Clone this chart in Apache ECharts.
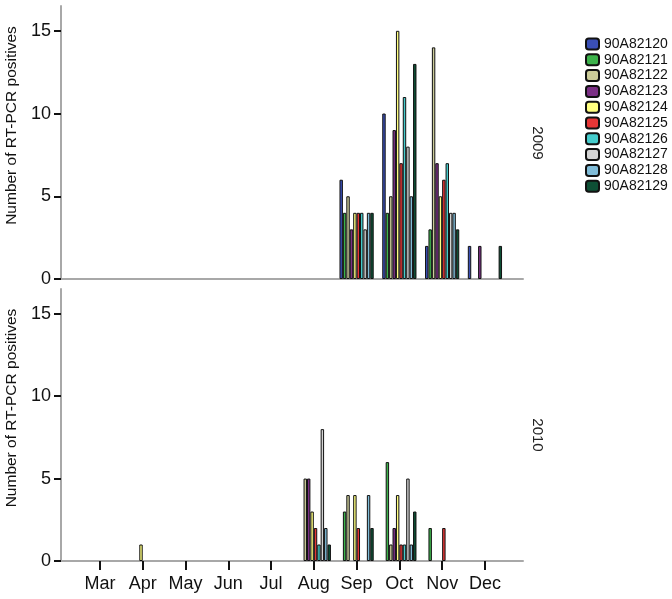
<!DOCTYPE html>
<html>
<head>
<meta charset="utf-8">
<title>RT-PCR positives 2009 / 2010</title>
<script src="https://cdn.jsdelivr.net/npm/echarts@6/dist/echarts.min.js"></script>
<style>
  body { margin: 0; background: #fff; }
  #main { width: 672px; height: 599px; }
</style>
</head>
<body>
<div id="main"></div>
<script type="text/javascript">
    // months on the x axis
    var months = ['Mar', 'Apr', 'May', 'Jun', 'Jul', 'Aug', 'Sep', 'Oct', 'Nov', 'Dec'];
    var strains = ['90A82120', '90A82121', '90A82122', '90A82123', '90A82124',
                   '90A82125', '90A82126', '90A82127', '90A82128', '90A82129'];
    var colors = ['#3a4fb5', '#3cb24b', '#cccc99', '#7b3085', '#ffff80',
                  '#e63636', '#45cccc', '#d3d3d3', '#80bcd8', '#0e4f35'];
    var yTicks = [0, 5, 10, 15];

    // one row per strain, Mar..Dec
    var counts2009 = [
        [0, 0, 0, 0, 0, 0, 6, 10, 2, 2],
        [0, 0, 0, 0, 0, 0, 4, 4, 3, 0],
        [0, 0, 0, 0, 0, 0, 5, 5, 14, 0],
        [0, 0, 0, 0, 0, 0, 3, 9, 7, 2],
        [0, 0, 0, 0, 0, 0, 4, 15, 5, 0],
        [0, 0, 0, 0, 0, 0, 4, 7, 6, 0],
        [0, 0, 0, 0, 0, 0, 4, 11, 7, 0],
        [0, 0, 0, 0, 0, 0, 3, 8, 4, 0],
        [0, 0, 0, 0, 0, 0, 4, 5, 4, 0],
        [0, 0, 0, 0, 0, 0, 4, 13, 3, 2]
    ];
    var counts2010 = [
        [0, 0, 0, 0, 0, 0, 0, 0, 0, 0],
        [0, 0, 0, 0, 0, 0, 3, 6, 2, 0],
        [0, 0, 0, 0, 0, 5, 4, 1, 0, 0],
        [0, 0, 0, 0, 0, 5, 0, 2, 0, 0],
        [0, 1, 0, 0, 0, 3, 4, 4, 0, 0],
        [0, 0, 0, 0, 0, 2, 2, 1, 2, 0],
        [0, 0, 0, 0, 0, 1, 0, 1, 0, 0],
        [0, 0, 0, 0, 0, 8, 0, 5, 0, 0],
        [0, 0, 0, 0, 0, 2, 4, 1, 0, 0],
        [0, 0, 0, 0, 0, 1, 2, 3, 0, 0]
    ];

    var font = 'Liberation Sans';
    var myChart = echarts.init(document.getElementById('main'));

    function xAxisFor(idx, withLabels) {
        return {
            type: 'value', gridIndex: idx, min: -0.91, max: 9.89,
            splitLine: { show: false },
            axisLine: { show: true, onZero: false, lineStyle: { color: '#a8a8a8', width: 2 } },
            axisTick: {
                show: withLabels, customValues: [0, 1, 2, 3, 4, 5, 6, 7, 8, 9],
                length: 9, lineStyle: { color: '#111', width: 2 }
            },
            axisLabel: {
                show: withLabels, customValues: [0, 1, 2, 3, 4, 5, 6, 7, 8, 9],
                formatter: function (v) { return months[Math.round(v)]; },
                margin: 14, fontSize: 18, color: '#111', fontFamily: font
            }
        };
    }

    function yAxisFor(idx) {
        return {
            type: 'value', gridIndex: idx, min: 0, max: 16.5,
            name: 'Number of RT-PCR positives', nameLocation: 'middle', nameGap: 36,
            nameTextStyle: { fontSize: 15.5, color: '#111', fontFamily: font, padding: [0, 0, 0, 34] },
            splitLine: { show: false },
            axisLine: { show: true, onZero: false, lineStyle: { color: '#a8a8a8', width: 2 } },
            axisTick: { show: true, customValues: yTicks, length: 7, lineStyle: { color: '#111', width: 2 } },
            axisLabel: { customValues: yTicks, margin: 10, fontSize: 18, color: '#111', fontFamily: font }
        };
    }

    function toPoints(row) {
        var pts = [];
        for (var i = 0; i < row.length; i++) {
            pts.push([i, row[i] > 0 ? row[i] : null]);
        }
        return pts;
    }

    var series = [];
    var panels = [counts2009, counts2010];
    for (var p = 0; p < panels.length; p++) {
        for (var s = 0; s < strains.length; s++) {
            series.push({
                name: strains[s], type: 'bar',
                xAxisIndex: p, yAxisIndex: p,
                barGap: '0%', barCategoryGap: '20%',
                itemStyle: { color: colors[s], borderColor: '#111', borderWidth: 1 },
                emphasis: { disabled: true },
                data: toPoints(panels[p][s])
            });
        }
    }

    var option = {
        animation: false,
        backgroundColor: '#fff',
        grid: [
            { left: 61, right: 149, top: 6, height: 273, outerBoundsMode: 'none' },
            { left: 61, right: 149, top: 289, height: 272, outerBoundsMode: 'none' }
        ],
        xAxis: [xAxisFor(0, false), xAxisFor(1, true)],
        yAxis: [yAxisFor(0), yAxisFor(1)],
        legend: {
            data: strains, orient: 'vertical', left: 585, top: 37,
            itemWidth: 13, itemHeight: 11, itemGap: 1.8, padding: 0,
            selectedMode: false,
            textStyle: { fontSize: 14, lineHeight: 14, color: '#111', fontFamily: font }
        },
        graphic: [
            { type: 'text', x: 537, y: 143, rotation: -Math.PI / 2,
              style: { text: '2009', fontSize: 15, fontFamily: font, fill: '#222', align: 'center', verticalAlign: 'middle' } },
            { type: 'text', x: 537, y: 435, rotation: -Math.PI / 2,
              style: { text: '2010', fontSize: 15, fontFamily: font, fill: '#222', align: 'center', verticalAlign: 'middle' } }
        ],
        series: series
    };

    myChart.setOption(option);
</script>
</body>
</html>
